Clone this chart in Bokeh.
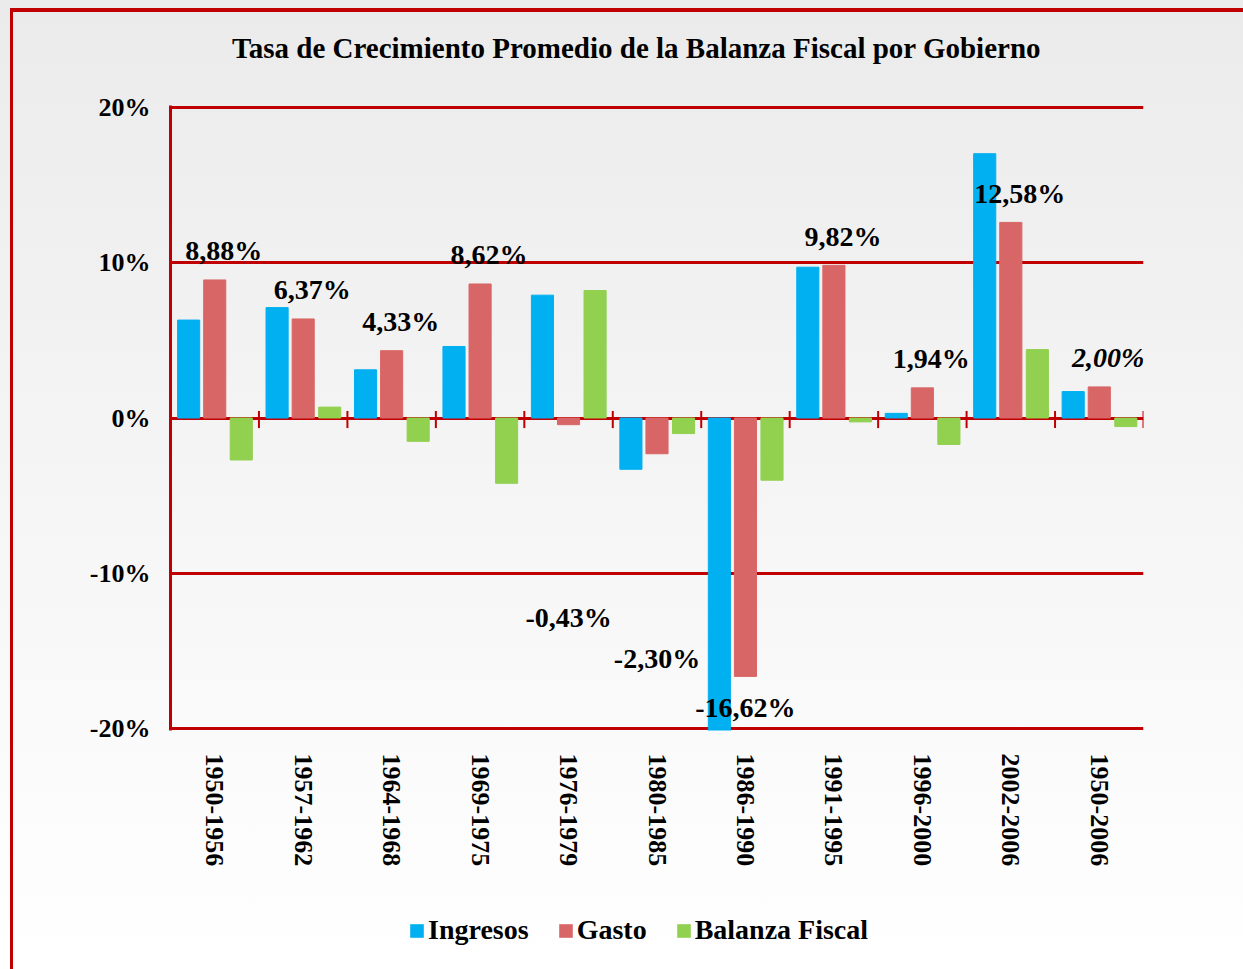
from bokeh.plotting import figure
from bokeh.layouts import column
from bokeh.models import (ColumnDataSource, FactorRange, FixedTicker, PrintfTickFormatter,
                          Legend, LegendItem)
from bokeh.transform import dodge
from bokeh.core.properties import value, field
from bokeh.embed import file_html
from bokeh.resources import INLINE

title = "Tasa de Crecimiento Promedio de la Balanza Fiscal por Gobierno"
categories = ["1950-1956", "1957-1962", "1964-1968", "1969-1975", "1976-1979", "1980-1985",
              "1986-1990", "1991-1995", "1996-2000", "2002-2006", "1950-2006"]
ingresos = [6.3, 7.1, 3.1, 4.6, 7.9, -3.3, -21.0, 9.7, 0.3, 17.0, 1.7]
gasto = [8.88, 6.37, 4.33, 8.62, -0.43, -2.30, -16.62, 9.82, 1.94, 12.58, 2.00]
balanza = [-2.7, 0.7, -1.5, -4.2, 8.2, -1.0, -4.0, -0.25, -1.7, 4.4, -0.55]
gasto_labels = ["8,88%", "6,37%", "4,33%", "8,62%", "-0,43%", "-2,30%", "-16,62%",
                "9,82%", "1,94%", "12,58%", "2,00%"]
neg_label_y = {"1976-1979": -12.8, "1980-1985": -15.5, "1986-1990": -18.6}
y_ticks = [-20, -10, 0, 10, 20]
series = ["Ingresos", "Gasto", "Balanza Fiscal"]
colors = ["#00B0F0", "#D96666", "#92D050"]

RED = "#C00000"
FONT = "Liberation Serif"


def strip(height):
    f = figure(width=1243, height=height, x_range=(0, 1), y_range=(0, 1),
               output_backend="svg", toolbar_location=None, min_border=0)
    f.axis.visible = False
    f.grid.grid_line_color = None
    f.outline_line_color = None
    f.border_fill_color = None
    f.background_fill_color = None
    return f


# ---- title strip ----
top = strip(85)
top.text(x=[0.479], y=[0.447], text=[title], text_font=value(FONT), text_font_style="bold",
         text_font_size="29px", text_align="center", text_baseline="middle",
         text_color="black")

# ---- main chart ----
p = figure(x_range=FactorRange(factors=categories), y_range=(-20.1, 20.1),
           width=1243, height=815, output_backend="svg", toolbar_location=None,
           min_border_left=170, min_border_right=100, min_border_top=20, min_border_bottom=170)
p.border_fill_color = None
p.background_fill_color = None
p.outline_line_color = None

p.ygrid.ticker = FixedTicker(ticks=y_ticks)
p.ygrid.grid_line_color = RED
p.ygrid.grid_line_width = 3
p.xgrid.grid_line_color = None

src = ColumnDataSource(dict(cat=categories, ing=ingresos, gas=gasto, bal=balanza))
offsets = [-0.295, 0.0, 0.3]
cols = ["ing", "gas", "bal"]
for col, off, c in zip(cols, offsets, colors):
    p.vbar(x=dodge("cat", off, range=p.x_range), top=col, bottom=0, width=0.25,
           source=src, fill_color=c, line_color=c)

# tick marks on the zero line at category boundaries
bounds = list(range(1, len(categories) + 1))
p.segment(x0=bounds, x1=bounds, y0=[-0.65] * len(bounds), y1=[0.45] * len(bounds),
          line_color=RED, line_width=2)

# data labels for Gasto
lab_y, lab_yoff, lab_xoff, lab_style = [], [], [], []
for c, v in zip(categories, gasto):
    if v > 0:
        lab_y.append(v); lab_yoff.append(-29); lab_xoff.append(9)
    else:
        lab_y.append(neg_label_y[c]); lab_yoff.append(0); lab_xoff.append(0)
    lab_style.append("bold")
lab_style[-1] = "bold italic"
lsrc = ColumnDataSource(dict(cat=categories, y=lab_y, text=gasto_labels,
                             yoff=lab_yoff, xoff=lab_xoff, style=lab_style))
p.text(x="cat", y="y", text="text", source=lsrc, x_offset="xoff", y_offset="yoff",
       text_font=value(FONT), text_font_size="28px", text_font_style=field("style"),
       text_align="center", text_baseline="middle", text_color="black")

p.yaxis.ticker = FixedTicker(ticks=y_ticks)
p.yaxis.formatter = PrintfTickFormatter(format="%d%%")
p.yaxis.axis_line_color = RED
p.yaxis.axis_line_width = 3
p.yaxis.major_tick_line_color = None
p.yaxis.minor_tick_line_color = None
p.yaxis.major_label_standoff = 14
p.yaxis.major_label_text_font = FONT
p.yaxis.major_label_text_font_style = "bold"
p.yaxis.major_label_text_font_size = "26px"
p.yaxis.major_label_text_color = "black"

p.xaxis.axis_line_color = None
p.xaxis.major_tick_line_color = None
p.xaxis.minor_tick_line_color = None
p.xaxis.major_label_orientation = "vertical"
p.xaxis.major_label_standoff = 17
p.xaxis.major_label_text_font = FONT
p.xaxis.major_label_text_font_style = "bold"
p.xaxis.major_label_text_font_size = "26px"
p.xaxis.major_label_text_color = "black"

# ---- legend strip ----
leg = strip(69)
items = []
for name, c in zip(series, colors):
    # zero-height, outline-free bar: only its legend swatch is visible
    r = leg.vbar(x=[0.5], top=[0], bottom=[0], width=0.1, fill_color=c, line_color=None)
    items.append(LegendItem(label=name, renderers=[r]))
legend = Legend(items=items, location=(238, 23), orientation="horizontal",
                glyph_width=17, glyph_height=17, label_standoff=3, spacing=28,
                padding=0, margin=0, border_line_color=None, background_fill_color=None,
                label_text_font=FONT, label_text_font_style="bold",
                label_text_font_size="28px", label_text_color="black")
leg.add_layout(legend)

layout = column(top, p, leg, spacing=0, styles={
    "background": ("linear-gradient(#C00000, #C00000) 10px 8px / 100% 4px no-repeat, "
                   "linear-gradient(#C00000, #C00000) 10px 8px / 3px 100% no-repeat, "
                   "linear-gradient(to bottom, #EBEBEB, #FFFFFF)")})

open("out.html", "w").write(file_html(layout, INLINE))
